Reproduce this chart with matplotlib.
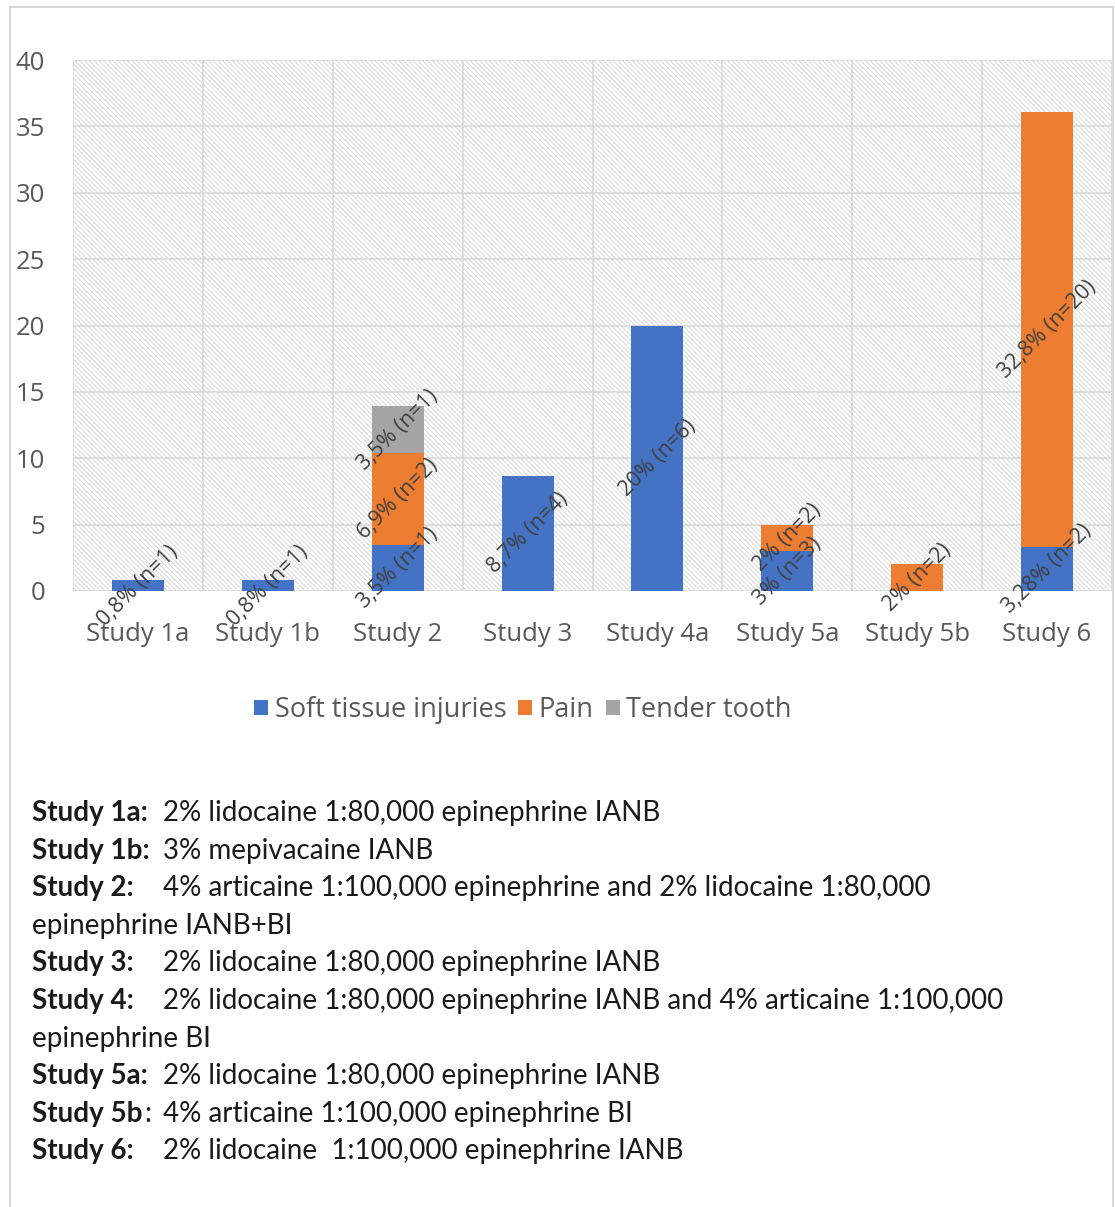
#!/usr/bin/env python

"""
Stacked bar chart of adverse effects per study, with the study legend below
"""

import matplotlib.pyplot as plt
from matplotlib.patches import Rectangle
from matplotlib.lines import Line2D

# Data
studies = ["Study 1a", "Study 1b", "Study 2", "Study 3", "Study 4a",
           "Study 5a", "Study 5b", "Study 6"]
soft_tissue = [0.8, 0.8, 3.5, 8.7, 20, 3, 0, 3.28]
pain = [0, 0, 6.9, 0, 0, 2, 2, 32.8]
tender_tooth = [0, 0, 3.5, 0, 0, 0, 0, 0]

soft_labels = ["0,8% (n=1)", "0,8% (n=1)", "3,5% (n=1)", "8,7% (n=4)",
               "20% (n=6)", "3% (n=3)", "", "3,28% (n=2)"]
pain_labels = ["", "", "6,9% (n=2)", "", "", "2% (n=2)", "2% (n=2)",
               "32,8% (n=20)"]
tender_labels = ["", "", "3,5% (n=1)", "", "", "", "", ""]

series_names = ["Soft tissue injuries", "Pain", "Tender tooth"]
yticks = [0, 5, 10, 15, 20, 25, 30, 35, 40]

notes_bold = ["Study 1a:", "Study 1b:", "Study 2:", "", "Study 3:",
              "Study 4:", "", "Study 5a:", "Study 5b", "Study 6:"]
notes_text = ["2% lidocaine 1:80,000 epinephrine IANB",
              "3% mepivacaine IANB",
              "4% articaine 1:100,000 epinephrine and 2% lidocaine 1:80,000",
              "epinephrine IANB+BI",
              "2% lidocaine 1:80,000 epinephrine IANB",
              "2% lidocaine 1:80,000 epinephrine IANB and 4% articaine 1:100,000",
              "epinephrine BI",
              "2% lidocaine 1:80,000 epinephrine IANB",
              "4% articaine 1:100,000 epinephrine BI",
              "2% lidocaine  1:100,000 epinephrine IANB"]

colors = ["#4472C4", "#ED7D31", "#A5A5A5"]
grid_color = "#D9D9D9"
tick_color = "#595959"
label_color = "#404040"
note_color = "#1a1a1a"

W, H = 1115, 1207
plt.rcParams["font.family"] = ["Open Sans", "DejaVu Sans"]
plt.rcParams["hatch.color"] = "#D8D8D8"
plt.rcParams["hatch.linewidth"] = 0.7

fig = plt.figure(figsize=(W / 100, H / 100), dpi=100)
ax = fig.add_axes([73 / W, 1 - 591 / H, (1112 - 73) / W, (591 - 60) / H])

# hatched plot area background
ax.add_patch(Rectangle((0, 0), 1, 1, transform=ax.transAxes, facecolor="white",
                       edgecolor=plt.rcParams["hatch.color"], hatch="\\" * 7,
                       linewidth=0, zorder=0))

x = list(range(len(studies)))
width = 0.4
bottom_pain = soft_tissue
bottom_tender = [s + p for s, p in zip(soft_tissue, pain)]

ax.bar(x, soft_tissue, width, color=colors[0], zorder=3, label=series_names[0])
ax.bar(x, pain, width, bottom=bottom_pain, color=colors[1], zorder=3,
       label=series_names[1])
ax.bar(x, tender_tooth, width, bottom=bottom_tender, color=colors[2], zorder=3,
       label=series_names[2])

# rotated data labels centred on each segment
def addLabels(values, bottoms, labels):
    for i, (v, b, lab) in enumerate(zip(values, bottoms, labels)):
        if lab:
            ax.text(i, b + v / 2, lab, rotation=45, ha="center", va="center",
                    rotation_mode="anchor", fontsize=15.5, color=label_color,
                    zorder=5)

addLabels(soft_tissue, [0] * len(x), soft_labels)
addLabels(pain, bottom_pain, pain_labels)
addLabels(tender_tooth, bottom_tender, tender_labels)

# axes and gridlines
ax.set_xlim(-0.5, len(studies) - 0.5)
ax.set_ylim(0, 40)
ax.set_yticks(yticks)
ax.set_xticks(x)
ax.set_xticklabels(studies)
ax.tick_params(length=0, labelsize=18.5, colors=tick_color)
ax.tick_params(axis="y", pad=20)
ax.tick_params(axis="x", pad=22)
for y in yticks[1:]:
    ax.axhline(y, color=grid_color, linewidth=1.2, zorder=1)
for b in [i + 0.5 for i in range(-1, len(studies))]:
    ax.axvline(b, color=grid_color, linewidth=1.2, zorder=1)
for s in ax.spines.values():
    s.set_visible(False)
ax.axhline(0, color=grid_color, linewidth=1.2, zorder=2)

# legend under the chart
handles, labels = ax.get_legend_handles_labels()
fig.legend(handles, labels, loc="center", bbox_to_anchor=(523 / W, 1 - 710 / H),
           ncol=3, frameon=False, fontsize=19.5, handlelength=0.5,
           handleheight=0.5, handletextpad=0.25, columnspacing=0.45,
           labelcolor=tick_color)

# study descriptions
y0 = 813
fs = 20
for i, (b, t) in enumerate(zip(notes_bold, notes_text)):
    yy = 1 - (y0 + i * 37.6) / H
    if b:
        bold_txt = fig.text(32 / W, yy, b, fontsize=fs, fontweight="bold",
                            family="Lato", color=note_color, va="center")
        if b == "Study 5b":
            fig.text(144 / W, yy, ":", fontsize=fs, family="Lato",
                     color=note_color, va="center")
        fig.text(163 / W, yy, t, fontsize=fs, family="Lato",
                 color=note_color, va="center")
    else:
        fig.text(32 / W, yy, t, fontsize=fs, family="Lato", color=note_color,
                 va="center")

# outer frame
frame_color = "#D0D0D0"
fig.add_artist(Line2D([10 / W, 10 / W], [0, 1 - 7 / H], color=frame_color, lw=1.2))
fig.add_artist(Line2D([10 / W, 1113 / W], [1 - 7 / H, 1 - 7 / H],
                      color=frame_color, lw=1.2))
fig.add_artist(Line2D([1113 / W, 1113 / W], [0, 1 - 7 / H], color=frame_color, lw=1.2))

plt.savefig("out.png", dpi=100)
